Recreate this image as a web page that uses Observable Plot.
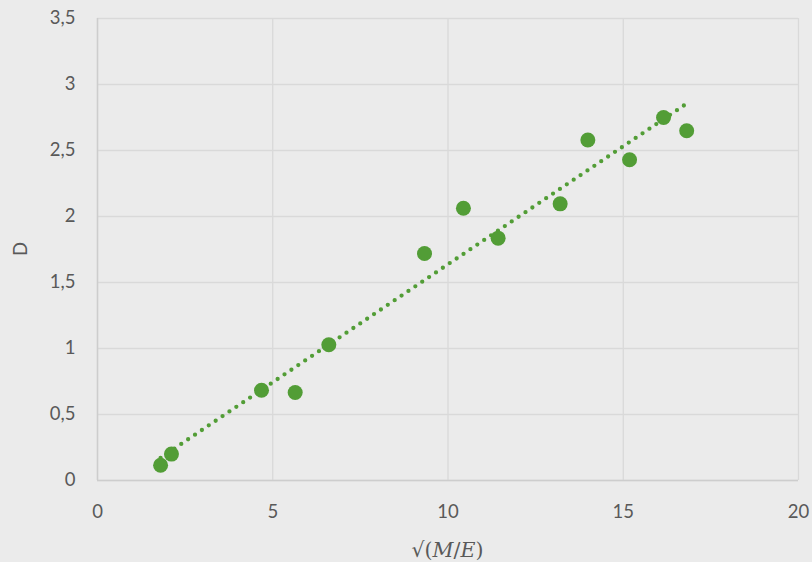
<!DOCTYPE html>
<html>
<head>
<meta charset="utf-8">
<script src="https://cdn.jsdelivr.net/npm/d3@7"></script>
<script src="https://cdn.jsdelivr.net/npm/@observablehq/plot@0.6"></script>
<style>
  html, body { margin: 0; padding: 0; background: #ebebeb; }
  #chart { width: 812px; height: 562px; }
</style>
</head>
<body>
<div id="chart"></div>
<script>
const xValues = [1.80, 2.11, 4.68, 5.64, 6.60, 9.33, 10.44, 11.43, 13.20, 13.99, 15.18, 16.15, 16.81];
const yValues = [0.116, 0.20, 0.684, 0.667, 1.028, 1.72, 2.063, 1.836, 2.096, 2.58, 2.43, 2.75, 2.65];
const xTicks = [0, 5, 10, 15, 20];
const yTicks = [0, 0.5, 1, 1.5, 2, 2.5, 3, 3.5];
const yLabel = "D";

const data = xValues.map((x, i) => ({x, y: yValues[i]}));
const green = "#529d36";
const fmt = d => String(d).replace(".", ",");

const plot = Plot.plot({
  width: 812,
  height: 562,
  marginLeft: 97,
  marginRight: 14,
  marginTop: 18,
  marginBottom: 82,
  style: {background: "#ebebeb", fontFamily: "Lato, 'Open Sans', sans-serif", fontSize: "18.5px", color: "#595959"},
  x: {domain: [0, 20], ticks: xTicks, tickFormat: fmt, tickSize: 0, tickPadding: 24, label: null},
  y: {domain: [0, 3.5], ticks: yTicks, tickFormat: fmt, tickSize: 0, tickPadding: 22, label: null},
  marks: [
    Plot.gridX(xTicks, {stroke: "#d9d9d9", strokeOpacity: 1, strokeWidth: 1.3}),
    Plot.gridY(yTicks, {stroke: "#d9d9d9", strokeOpacity: 1, strokeWidth: 1.3}),
    Plot.ruleX([0], {stroke: "#cdcdcd", strokeWidth: 1.5}),
    Plot.ruleY([0], {stroke: "#cdcdcd", strokeWidth: 1.5}),
    Plot.linearRegressionY(data, {x: "x", y: "y", ci: 0, stroke: green, strokeWidth: 4.3, strokeLinecap: "round", strokeDasharray: "0,8.3"}),
    Plot.dot(data, {x: "x", y: "y", r: 7.5, fill: green, stroke: "none"})
  ]
});
document.getElementById("chart").appendChild(plot);

const svg = d3.select(plot);
svg.selectAll("[aria-label='x-axis tick label'] text, [aria-label='y-axis tick label'] text").attr("fill", "#595959");

// y-axis title
svg.append("text")
  .attr("transform", "translate(22,249) rotate(-90)")
  .attr("text-anchor", "middle")
  .attr("dominant-baseline", "middle")
  .attr("fill", "#595959")
  .style("font-family", "Lato, 'Open Sans', sans-serif")
  .style("font-size", "18.5px")
  .text(yLabel);

// x-axis title with italic variables
const xt = svg.append("text")
  .attr("x", 447.5)
  .attr("y", 557)
  .attr("text-anchor", "middle")
  .attr("fill", "#595959")
  .style("font-family", "'DejaVu Serif', 'Liberation Serif', serif")
  .style("font-size", "20.5px");
xt.append("tspan").text("√(");
xt.append("tspan").attr("font-style", "italic").text("M");
xt.append("tspan").text("/");
xt.append("tspan").attr("font-style", "italic").text("E");
xt.append("tspan").text(")");
</script>
</body>
</html>
